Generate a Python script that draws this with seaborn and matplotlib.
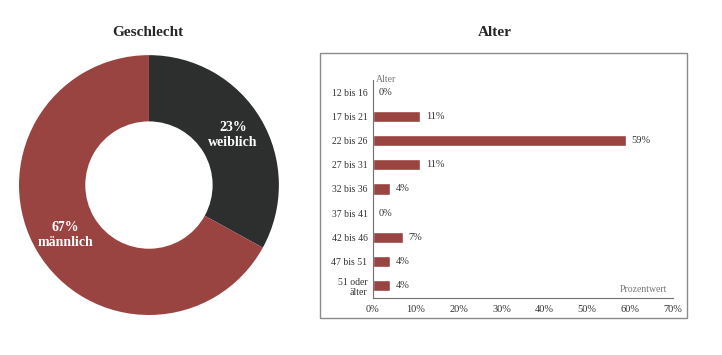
import numpy as np
import matplotlib
matplotlib.use("Agg")
import matplotlib.pyplot as plt
import seaborn as sns
from matplotlib.patches import Rectangle

# Geschlecht (donut)
gender_labels = ["weiblich", "männlich"]
gender_text = ["23%", "67%"]
gender_share = [33, 67]   # wedge sizes as drawn in the picture

# Alter (bar chart)
age_groups = ["12 bis 16", "17 bis 21", "22 bis 26", "27 bis 31", "32 bis 36",
              "37 bis 41", "42 bis 46", "47 bis 51", "51 oder\nälter"]
age_pct = [0, 11, 59, 11, 4, 0, 7, 4, 4]
x_ticks = [0, 10, 20, 30, 40, 50, 60, 70]

red = "#9a4442"
dark = "#2d2f2f"

sns.set_style("white")
plt.rcParams["font.family"] = ["Liberation Serif", "DejaVu Serif"]

fig = plt.figure(figsize=(7.22, 3.55), dpi=100)

# donut
ax1 = fig.add_axes([0.0263, 0.1127, 0.360, 0.732])
wedges, _ = ax1.pie(gender_share, colors=[dark, red], startangle=90, counterclock=False,
                    radius=1.0, wedgeprops=dict(width=0.51, linewidth=0))
for w, pct, lab in zip(wedges, gender_text, gender_labels):
    ang = np.deg2rad((w.theta1 + w.theta2) / 2)
    ax1.text(0.75 * np.cos(ang), 0.75 * np.sin(ang), f"{pct}\n{lab}", color="white",
             fontsize=10, fontweight="bold", ha="center", va="center", linespacing=1.2)
ax1.set_xlim(-1.0, 1.0)
ax1.set_ylim(-1.0, 1.0)
ax1.set_aspect("equal")
ax1.axis("off")

fig.text(148 / 722, 1 - 33 / 355, "Geschlecht", ha="center", va="center",
         fontsize=11, fontweight="bold")
fig.text(495 / 722, 1 - 33 / 355, "Alter", ha="center", va="center",
         fontsize=11, fontweight="bold")

# frame around bar chart
fig.patches.append(Rectangle((320 / 722, 1 - 318 / 355), 367 / 722, 265 / 355,
                             transform=fig.transFigure, fill=False,
                             edgecolor="#8a8a8a", linewidth=1.0))

# bars
ax2 = fig.add_axes([373 / 722, 57 / 355, 300 / 722, 218 / 355])
sns.barplot(x=age_pct, y=age_groups, orient="h", color=red, width=0.46,
            saturation=1, ax=ax2)
for c in ax2.containers:
    ax2.bar_label(c, labels=[f"{v}%" for v in age_pct], padding=4,
                  fontsize=7.5, color="#333333")
ax2.set_xlim(0, 70)
ax2.set_ylim(8.5, -0.5)
ax2.set_xticks(x_ticks)
ax2.set_xticklabels([f"{t}%" for t in x_ticks])
ax2.tick_params(axis="both", length=0, labelcolor="#333333")
ax2.tick_params(axis="x", pad=5, labelsize=7.5)
ax2.tick_params(axis="y", pad=4, labelsize=7)
for lab in ax2.get_yticklabels():
    lab.set_horizontalalignment("right")
    lab.set_multialignment("right")
for s in ["top", "right"]:
    ax2.spines[s].set_visible(False)
for s in ["left", "bottom"]:
    ax2.spines[s].set_color("#707070")
    ax2.spines[s].set_linewidth(0.8)
ax2.set_xlabel("")
ax2.set_ylabel("")
ax2.text(0.01, 1.0, "Alter", transform=ax2.transAxes, ha="left", va="center",
         fontsize=7, color="#777777")
ax2.text(0.98, 0.02, "Prozentwert", transform=ax2.transAxes, ha="right", va="bottom",
         fontsize=7, color="#777777")

fig.savefig("out.png", dpi=100)
